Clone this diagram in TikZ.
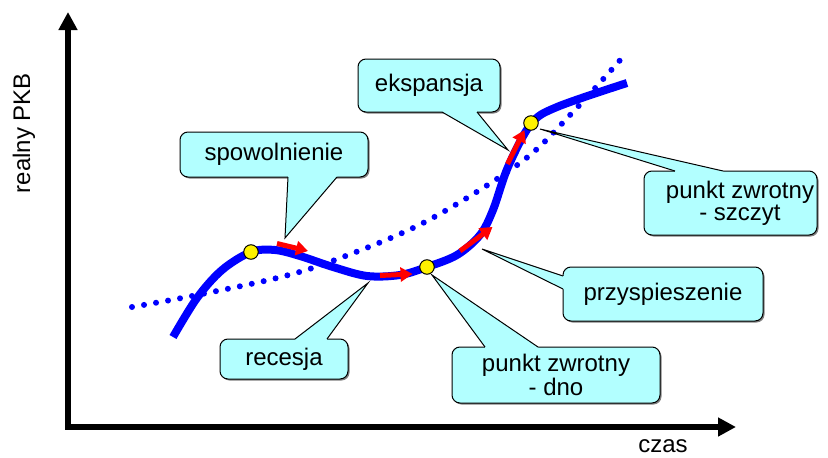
\documentclass[tikz,border=0pt]{standalone}
\usepackage{fontspec}
\setmainfont{Liberation Sans}
\usetikzlibrary{arrows.meta,shadows,calc}
\definecolor{cfill}{RGB}{178,255,255}
\definecolor{cblue}{RGB}{0,0,255}
\definecolor{cred}{RGB}{255,0,0}
\begin{document}
\begin{tikzpicture}[x=1pt,y=-1pt,
  cbox/.style={draw=black, line width=1pt, fill=cfill, rounded corners=8pt,
    inner sep=0pt, align=center, font=\fontsize{24}{26}\selectfont,
    drop shadow={shadow xshift=1.5pt, shadow yshift=-1.5pt, fill=black!50, opacity=1}},
  ptrline/.style={draw=black, line width=1pt, line join=miter},
  axis/.style={line width=6.5pt, line join=miter,
    {Triangle[length=18pt,width=18pt]}-{Triangle[length=18pt,width=18pt]}},
  gdp/.style={draw=cblue, line width=8pt, line cap=butt},
  trend/.style={draw=cblue, line width=6pt, line cap=round, dash pattern=on 0pt off 12.2pt},
  move/.style={draw=cred, line width=5pt, -{Triangle[length=12pt,width=14pt]}},
  ydot/.style={circle, draw=black, line width=1pt, fill=yellow, minimum size=14.5pt, inner sep=0pt},
  lab/.style={font=\fontsize{24}{26}\selectfont, inner sep=0pt}]
\useasboundingbox (0,0) rectangle (828,458);

% axes
\coordinate (ytip) at (68,12);
\coordinate (origin) at (68,427);
\coordinate (xtip) at (736,427);
\draw[axis] (ytip) -- (origin) -- (xtip);
\node[lab, rotate=90] (ylab) at (24,133) {realny PKB};
\node[lab] (xlab) at (663,446) {czas};

% trend (dotted)
\draw[trend] plot[smooth, tension=0.55] coordinates
  {(132,307) (192,296) (277,278) (335,260) (425,222) (520,163) (572,113) (622,58)};

% GDP curve
\draw[gdp] plot[smooth, tension=0.55] coordinates
  {(173,337) (197,298) (222,270) (251,252) (275,250) (300,256) (333,267) (367,276)
   (400,275) (427,267) (457,255) (480,235) (493,210) (508,167) (531,124) (557,107) (627,83)};

% callout boxes
\node[cbox, minimum width=188pt, minimum height=45pt] (spow) at (274,154.5) {spowolnienie};
\node[cbox, minimum width=142pt, minimum height=53pt] (eksp) at (429,85.5) {ekspansja};
\node[cbox, minimum width=173pt, minimum height=64pt, font=\fontsize{24}{22}\selectfont]
  (szcz) at (730.5,203) {\hspace*{19pt}punkt zwrotny\\\hspace*{19pt}- szczyt};
\node[cbox, minimum width=128pt, minimum height=40pt] (rec) at (284,359) {recesja};
\node[cbox, minimum width=200pt, minimum height=54pt] (przy) at (663,294) {przyspieszenie};
\node[cbox, minimum width=208pt, minimum height=56pt, font=\fontsize{24}{18}\selectfont]
  (dno) at (556,375) {punkt zwrotny\\- dno};

% pointers
\coordinate (spowT) at (285,238); \coordinate (spowA) at (288,177); \coordinate (spowB) at (337,177);
\fill[cfill] (spowT) -- (spowA) -- ($(spowA)+(0,-3)$) -- ($(spowB)+(0,-3)$) -- (spowB) -- cycle;
\draw[ptrline] (spowA) -- (spowT) -- (spowB);

\coordinate (ekspT) at (508,150); \coordinate (ekspA) at (442,112); \coordinate (ekspB) at (477,112);
\fill[cfill] (ekspT) -- (ekspA) -- ($(ekspA)+(0,-3)$) -- ($(ekspB)+(0,-3)$) -- (ekspB) -- cycle;
\draw[ptrline] (ekspA) -- (ekspT) -- (ekspB);

\coordinate (szczT) at (540,129); \coordinate (szczA) at (675,171); \coordinate (szczB) at (723,171);
\fill[cfill] (szczT) -- (szczA) -- ($(szczA)+(0,3)$) -- ($(szczB)+(0,3)$) -- (szczB) -- cycle;
\draw[ptrline] (szczA) -- (szczT) -- (szczB);

\coordinate (recT) at (368,283); \coordinate (recA) at (295,339); \coordinate (recB) at (327,339);
\fill[cfill] (recT) -- (recA) -- ($(recA)+(0,3)$) -- ($(recB)+(0,3)$) -- (recB) -- cycle;
\draw[ptrline] (recA) -- (recT) -- (recB);

\coordinate (przyT) at (482,249); \coordinate (przyA) at (563,276); \coordinate (przyB) at (563,289);
\fill[cfill] (przyT) -- (przyA) -- ($(przyA)+(3,0)$) -- ($(przyB)+(3,0)$) -- (przyB) -- cycle;
\draw[ptrline] (przyA) -- (przyT) -- (przyB);

\coordinate (dnoT) at (432,275); \coordinate (dnoA) at (485,347); \coordinate (dnoB) at (538,347);
\fill[cfill] (dnoT) -- (dnoA) -- ($(dnoA)+(0,3)$) -- ($(dnoB)+(0,3)$) -- (dnoB) -- cycle;
\draw[ptrline] (dnoA) -- (dnoT) -- (dnoB);

% red movement arrows
\coordinate (m1a) at (277,243.5); \coordinate (m1b) at (308,251);
\coordinate (m2a) at (380,275.5); \coordinate (m2b) at (412.5,274);
\coordinate (m3a) at (460,251); \coordinate (m3b) at (492.5,227);
\coordinate (m4a) at (507.5,164); \coordinate (m4b) at (524.5,130);
\draw[move] (m1a) -- (m1b);
\draw[move] (m2a) -- (m2b);
\draw[move] (m3a) -- (m3b);
\draw[move] (m4a) -- (m4b);

% turning points
\node[ydot] (p1) at (251,252) {};
\node[ydot] (p2) at (427,267) {};
\node[ydot] (p3) at (531,123) {};
\end{tikzpicture}
\end{document}
